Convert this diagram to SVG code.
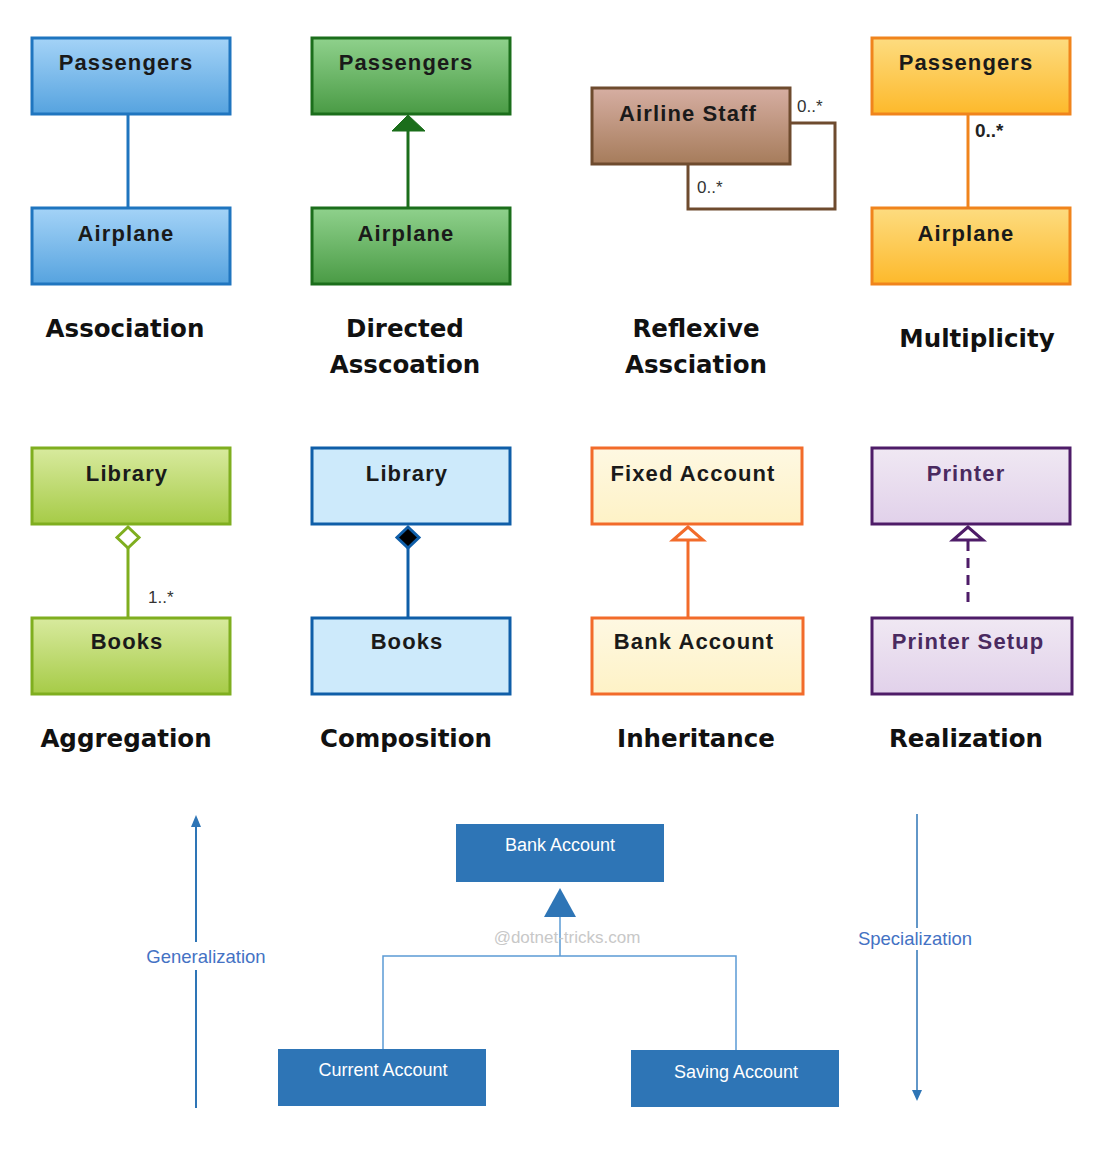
<svg xmlns="http://www.w3.org/2000/svg" width="1108" height="1161" viewBox="0 0 1108 1161">
<defs>
<linearGradient id="gBlue" x1="0" y1="0" x2="0" y2="1"><stop offset="0" stop-color="#A4D3F7"/><stop offset="1" stop-color="#56A3DF"/></linearGradient>
<linearGradient id="gGreen" x1="0" y1="0" x2="0" y2="1"><stop offset="0" stop-color="#8FD18C"/><stop offset="1" stop-color="#4A9B45"/></linearGradient>
<linearGradient id="gBrown" x1="0" y1="0" x2="0" y2="1"><stop offset="0" stop-color="#D6AEA2"/><stop offset="1" stop-color="#A67C5B"/></linearGradient>
<linearGradient id="gOrange" x1="0" y1="0" x2="0" y2="1"><stop offset="0" stop-color="#FDDC80"/><stop offset="1" stop-color="#FDB92B"/></linearGradient>
<linearGradient id="gLime" x1="0" y1="0" x2="0" y2="1"><stop offset="0" stop-color="#D8EA9E"/><stop offset="1" stop-color="#A6CB47"/></linearGradient>
<linearGradient id="gCream" x1="0" y1="0" x2="0" y2="1"><stop offset="0" stop-color="#FEF8E2"/><stop offset="1" stop-color="#FEF2C6"/></linearGradient>
<linearGradient id="gPurple" x1="0" y1="0" x2="0" y2="1"><stop offset="0" stop-color="#F0E8F3"/><stop offset="1" stop-color="#E1D1EA"/></linearGradient>
</defs>
<style>
.box{stroke-width:3}
.bt{font-family:"Liberation Sans",Arial,sans-serif;font-weight:bold;font-size:22px;letter-spacing:1.1px;fill:#1a1a1a;text-anchor:middle}
.cap{font-family:"DejaVu Sans",Verdana,sans-serif;font-weight:bold;font-size:24.5px;fill:#111;text-anchor:middle}
.mul{font-family:"Liberation Sans",Arial,sans-serif;font-size:17px;fill:#333}
.wb{fill:#2E75B6}
.wt{font-family:"Liberation Sans",Arial,sans-serif;font-size:18px;fill:#fff;text-anchor:middle}
.side{font-family:"Liberation Sans",Arial,sans-serif;font-size:18.5px;fill:#4472C4;text-anchor:middle}
</style>

<g id="connectors" fill="none">
<line x1="128" y1="115" x2="128" y2="207" stroke="#1F75BF" stroke-width="3"/>
<line x1="408" y1="128" x2="408" y2="207" stroke="#1B6E1B" stroke-width="3"/>
<polygon points="408,115 392,131 425,131" fill="#1B6E1B" stroke="#1B6E1B" stroke-width="1"/>
<polyline points="790,123 835,123 835,209 688,209 688,165" stroke="#6E4B2E" stroke-width="3"/>
<line x1="968" y1="115" x2="968" y2="207" stroke="#F0841C" stroke-width="3"/>
<line x1="128" y1="548" x2="128" y2="617" stroke="#7FAE1F" stroke-width="3"/>
<polygon points="128,527 139,537.5 128,548 117,537.5" fill="#fff" stroke="#7FAE1F" stroke-width="3"/>
<line x1="408" y1="548" x2="408" y2="617" stroke="#0F5EA8" stroke-width="3"/>
<polygon points="408,527 419,537.5 408,548 397,537.5" fill="#000" stroke="#0F5EA8" stroke-width="3"/>
<line x1="688" y1="540" x2="688" y2="617" stroke="#F26B2A" stroke-width="3"/>
<polygon points="688,527 673,540 703,540" fill="#fff" stroke="#F26B2A" stroke-width="3" stroke-linejoin="miter"/>
<line x1="968" y1="541" x2="968" y2="607" stroke="#4E1C68" stroke-width="3" stroke-dasharray="10,7"/>
<polygon points="968,527 953,540 983,540" fill="#fff" stroke="#4E1C68" stroke-width="3"/>
<line x1="560" y1="912" x2="560" y2="956" stroke="#5B9BD5" stroke-width="1.5"/>
<polygon points="560,888 544,917 576,917" fill="#2E75B6"/>
<polyline points="383,1049 383,956 736,956 736,1050" stroke="#5B9BD5" stroke-width="1.5"/>
<line x1="196" y1="824" x2="196" y2="942" stroke="#2E75B6" stroke-width="2"/>
<line x1="196" y1="970" x2="196" y2="1108" stroke="#2E75B6" stroke-width="2"/>
<polygon points="196,815 191,827 201,827" fill="#2E75B6"/>
<line x1="917" y1="814" x2="917" y2="928" stroke="#2E75B6" stroke-width="1.5"/>
<line x1="917" y1="950" x2="917" y2="1092" stroke="#2E75B6" stroke-width="1.5"/>
<polygon points="917,1101 912,1090 922,1090" fill="#2E75B6"/>
</g>

<g id="assoc-passengers"><rect class="box" x="32" y="38" width="198" height="76" fill="url(#gBlue)" stroke="#1F75BF"/><text class="bt" x="126" y="70">Passengers</text></g>
<g id="assoc-airplane"><rect class="box" x="32" y="208" width="198" height="76" fill="url(#gBlue)" stroke="#1F75BF"/><text class="bt" x="126" y="241">Airplane</text></g>
<g id="dir-passengers"><rect class="box" x="312" y="38" width="198" height="76" fill="url(#gGreen)" stroke="#1B6E1B"/><text class="bt" x="406" y="70">Passengers</text></g>
<g id="dir-airplane"><rect class="box" x="312" y="208" width="198" height="76" fill="url(#gGreen)" stroke="#1B6E1B"/><text class="bt" x="406" y="241">Airplane</text></g>
<g id="airline-staff"><rect class="box" x="592" y="88" width="198" height="76" fill="url(#gBrown)" stroke="#6E4B2E"/><text class="bt" x="688" y="121">Airline Staff</text></g>
<g id="mult-passengers"><rect class="box" x="872" y="38" width="198" height="76" fill="url(#gOrange)" stroke="#F0841C"/><text class="bt" x="966" y="70">Passengers</text></g>
<g id="mult-airplane"><rect class="box" x="872" y="208" width="198" height="76" fill="url(#gOrange)" stroke="#F0841C"/><text class="bt" x="966" y="241">Airplane</text></g>

<g id="agg-library"><rect class="box" x="32" y="448" width="198" height="76" fill="url(#gLime)" stroke="#7FAE1F"/><text class="bt" x="127" y="481">Library</text></g>
<g id="agg-books"><rect class="box" x="32" y="618" width="198" height="76" fill="url(#gLime)" stroke="#7FAE1F"/><text class="bt" x="127" y="649">Books</text></g>
<g id="comp-library"><rect class="box" x="312" y="448" width="198" height="76" fill="#CDEAFB" stroke="#0F5EA8"/><text class="bt" x="407" y="481">Library</text></g>
<g id="comp-books"><rect class="box" x="312" y="618" width="198" height="76" fill="#CDEAFB" stroke="#0F5EA8"/><text class="bt" x="407" y="649">Books</text></g>
<g id="inh-fixed"><rect class="box" x="592" y="448" width="210" height="76" fill="url(#gCream)" stroke="#F26B2A"/><text class="bt" x="693" y="481">Fixed Account</text></g>
<g id="inh-bank"><rect class="box" x="592" y="618" width="211" height="76" fill="url(#gCream)" stroke="#F26B2A"/><text class="bt" x="694" y="649">Bank Account</text></g>
<g id="real-printer"><rect class="box" x="872" y="448" width="198" height="76" fill="url(#gPurple)" stroke="#4E1C68"/><text class="bt" x="966" y="481" style="fill:#4A2A60">Printer</text></g>
<g id="real-setup"><rect class="box" x="872" y="618" width="200" height="76" fill="url(#gPurple)" stroke="#4E1C68"/><text class="bt" x="968" y="649" style="fill:#4A2A60">Printer Setup</text></g>

<g id="labels">
<text class="mul" x="797" y="112">0..*</text>
<text class="mul" x="697" y="193">0..*</text>
<text class="mul" x="975" y="137" style="font-weight:bold;font-size:19px;fill:#222">0..*</text>
<text class="mul" x="148" y="603">1..*</text>
<text class="cap" x="125" y="337">Association</text>
<text class="cap" x="405" y="337">Directed</text>
<text class="cap" x="405" y="373">Asscoation</text>
<text class="cap" x="696" y="337">Reflexive</text>
<text class="cap" x="696" y="373">Assciation</text>
<text class="cap" x="977" y="347">Multiplicity</text>
<text class="cap" x="126" y="747">Aggregation</text>
<text class="cap" x="406" y="747">Composition</text>
<text class="cap" x="696" y="747">Inheritance</text>
<text class="cap" x="966" y="747">Realization</text>
</g>

<g id="bank-account"><rect class="wb" x="456" y="824" width="208" height="58"/><text class="wt" x="560" y="851">Bank Account</text></g>
<g id="current-account"><rect class="wb" x="278" y="1049" width="208" height="57"/><text class="wt" x="383" y="1076">Current Account</text></g>
<g id="saving-account"><rect class="wb" x="631" y="1050" width="208" height="57"/><text class="wt" x="736" y="1078">Saving Account</text></g>

<g id="side-labels">
<text x="567" y="943" style="font-family:'Liberation Sans',Arial,sans-serif;font-size:17px;fill:#C8C8C8;text-anchor:middle">@dotnet-tricks.com</text>
<text class="side" x="206" y="963">Generalization</text>
<text class="side" x="915" y="945">Specialization</text>
</g>
</svg>
